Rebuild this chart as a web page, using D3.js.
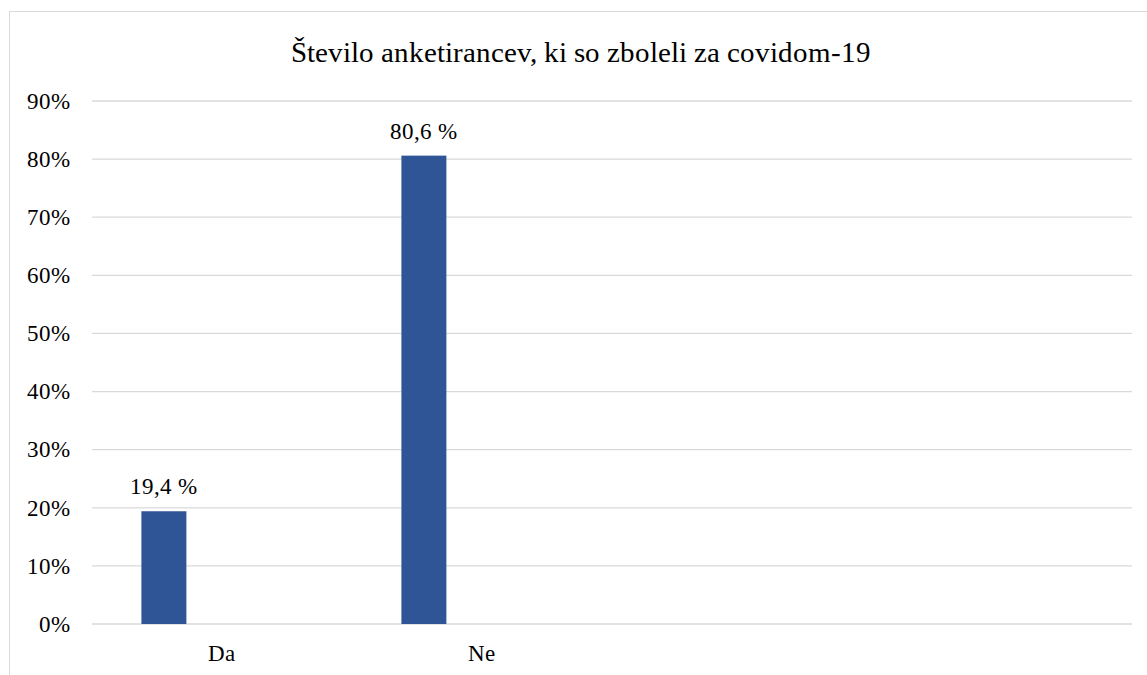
<!DOCTYPE html>
<html>
<head>
<meta charset="utf-8">
<script src="https://cdn.jsdelivr.net/npm/d3@7"></script>
<style>
  @font-face { font-family: "ChartSerif"; src: local("Liberation Serif"), local("LiberationSerif"), local("Times New Roman"); }
  html body svg#viz g text, html body svg#viz text { font-family: "ChartSerif", "Liberation Serif", "Times New Roman", serif !important; }
</style>
</head>
<body style="margin:0;background:#fff">
<svg id="viz" width="1147" height="675" style="display:block"></svg>
<script>
const title = "Število anketirancev, ki so zboleli za covidom-19";
const categories = ["Da", "Ne"];
const slots = ["Da", "Ne", "slot3", "slot4"];
const values = [19.4, 80.6];
const valueLabels = ["19,4 %", "80,6 %"];
const yTicks = [0, 10, 20, 30, 40, 50, 60, 70, 80, 90];

const FONT = '"ChartSerif", "Liberation Serif", "Times New Roman", serif';

const svg = d3.select("#viz");
const W = 1147, H = 675;
const m = { left: 92, right: 15, top: 101, bottom: 51 };

svg.append("rect").attr("x", 0).attr("y", 0).attr("width", W).attr("height", H).attr("fill", "#fff");
svg.append("rect").attr("x", 9.5).attr("y", 11.5).attr("width", 1200).attr("height", 700)
  .attr("fill", "none").attr("stroke", "#d9d9d9").attr("stroke-width", 1);

const x = d3.scaleBand().domain(slots).range([m.left, W - m.right]).paddingInner(0).paddingOuter(0);
const y = d3.scaleLinear().domain([0, 90]).range([H - m.bottom, m.top]);

svg.append("g").selectAll("line").data(yTicks).join("line")
  .attr("x1", m.left).attr("x2", W - m.right)
  .attr("y1", d => y(d)).attr("y2", d => y(d))
  .attr("stroke", "#d9d9d9").attr("stroke-width", 1.3);

function txt(sel, size) {
  return sel.attr("font-family", FONT).style("font-family", FONT, "important").attr("font-size", size).attr("fill", "#000");
}

txt(svg.append("g").selectAll("text").data(yTicks).join("text"), 23)
  .attr("x", 70).attr("y", d => y(d)).attr("dy", "0.34em")
  .attr("text-anchor", "end")
  .text(d => d + "%");

const bw = x.bandwidth();
const barOff = 0.19 * bw, barW = 0.173 * bw;

svg.append("g").selectAll("rect").data(categories).join("rect")
  .attr("x", d => x(d) + barOff)
  .attr("width", barW)
  .attr("y", (d, i) => y(values[i]))
  .attr("height", (d, i) => y(0) - y(values[i]))
  .attr("fill", "#2F5597");

txt(svg.append("g").selectAll("text").data(categories).join("text"), 23)
  .attr("x", d => x(d) + barOff + barW / 2)
  .attr("y", (d, i) => y(values[i]) - 17)
  .attr("text-anchor", "middle")
  .text((d, i) => valueLabels[i]);

txt(svg.append("g").selectAll("text").data(categories).join("text"), 23)
  .attr("x", d => x(d) + bw / 2 - 1)
  .attr("y", 661)
  .attr("text-anchor", "middle")
  .text(d => d);

txt(svg.append("text"), 29).attr("x", 581).attr("y", 62)
  .attr("text-anchor", "middle")
  .text(title);
</script>
</body>
</html>
